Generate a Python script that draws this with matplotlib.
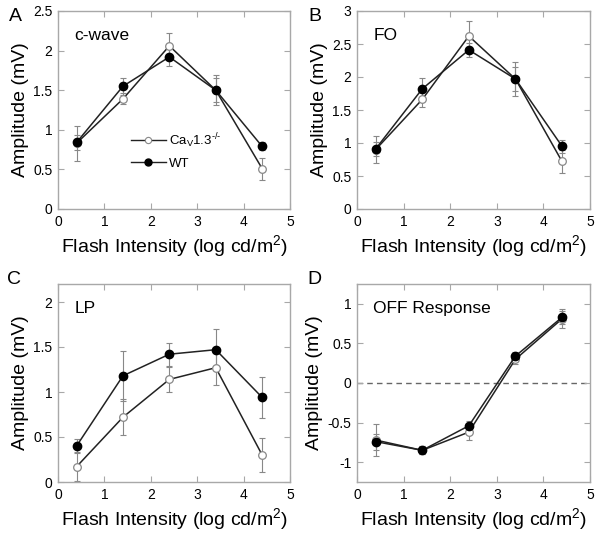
import matplotlib
matplotlib.use("Agg")
import matplotlib.pyplot as plt
from matplotlib.lines import Line2D

plt.rcParams['font.family'] = ['Liberation Sans', 'DejaVu Sans']
plt.rcParams['mathtext.fontset'] = 'custom'
plt.rcParams['mathtext.rm'] = 'Liberation Sans'
plt.rcParams['mathtext.it'] = 'Liberation Sans:italic'

x = [0.4, 1.4, 2.4, 3.4, 4.4]

# Panel A: c-wave
a_ko = [0.83, 1.39, 2.06, 1.50, 0.51]
a_ko_err = [0.22, 0.07, 0.16, 0.19, 0.14]
a_wt = [0.84, 1.55, 1.92, 1.50, 0.79]
a_wt_err = [0.10, 0.11, 0.12, 0.15, 0.05]

# Panel B: FO
b_ko = [0.90, 1.66, 2.62, 1.97, 0.72]
b_ko_err = [0.21, 0.12, 0.23, 0.26, 0.18]
b_wt = [0.91, 1.82, 2.41, 1.97, 0.95]
b_wt_err = [0.11, 0.16, 0.11, 0.18, 0.10]

# Panel C: LP
c_ko = [0.17, 0.72, 1.14, 1.27, 0.30]
c_ko_err = [0.16, 0.20, 0.14, 0.19, 0.19]
c_wt = [0.40, 1.18, 1.42, 1.47, 0.94]
c_wt_err = [0.08, 0.28, 0.13, 0.23, 0.23]

# Panel D: OFF Response
d_ko = [-0.72, -0.85, -0.62, 0.30, 0.81]
d_ko_err = [0.20, 0.05, 0.10, 0.06, 0.12]
d_wt = [-0.74, -0.85, -0.54, 0.34, 0.83]
d_wt_err = [0.10, 0.05, 0.06, 0.05, 0.08]

W, H = 600, 536

panels = [
    dict(letter='A', lpos=(9, 8), title='c-wave', ko=a_ko, koe=a_ko_err, wt=a_wt, wte=a_wt_err,
         ylim=(0, 2.5), yticks=[0, 0.5, 1, 1.5, 2, 2.5], yticklabels=['0', '0.5', '1', '1.5', '2', '2.5'],
         rect=[58/W, 1-209/H, 232/W, 198/H]),
    dict(letter='B', lpos=(308, 8), title='FO', ko=b_ko, koe=b_ko_err, wt=b_wt, wte=b_wt_err,
         ylim=(0, 3), yticks=[0, 0.5, 1, 1.5, 2, 2.5, 3], yticklabels=['0', '0.5', '1', '1.5', '2', '2.5', '3'],
         rect=[357/W, 1-209/H, 233/W, 198/H]),
    dict(letter='C', lpos=(7, 271), title='LP', ko=c_ko, koe=c_ko_err, wt=c_wt, wte=c_wt_err,
         ylim=(0, 2.2), yticks=[0, 0.5, 1, 1.5, 2], yticklabels=['0', '0.5', '1', '1.5', '2'],
         rect=[58/W, 1-482/H, 232/W, 198/H]),
    dict(letter='D', lpos=(307, 271), title='OFF Response', ko=d_ko, koe=d_ko_err, wt=d_wt, wte=d_wt_err,
         ylim=(-1.25, 1.25), yticks=[-1, -0.5, 0, 0.5, 1], yticklabels=['-1', '-0.5', '0', '0.5', '1'],
         rect=[357/W, 1-482/H, 233/W, 198/H]),
]

fig = plt.figure(figsize=(6, 5.36), dpi=100)
spine_c = '#a8a8a8'
line_c = '#222222'
err_c = '#888888'

for p in panels:
    ax = fig.add_axes(p['rect'])
    if p['letter'] == 'D':
        ax.axhline(0, color='#666666', lw=1.0, ls=(0, (4, 3)), zorder=1)
    ax.errorbar(x, p['ko'], yerr=p['koe'], fmt='none', ecolor=err_c, elinewidth=0.8,
                capsize=2, capthick=0.8, zorder=2)
    ax.errorbar(x, p['wt'], yerr=p['wte'], fmt='none', ecolor=err_c, elinewidth=0.8,
                capsize=2, capthick=0.8, zorder=2)
    ax.plot(x, p['ko'], color=line_c, lw=1.1, marker='o', ms=5.5, mfc='white',
            mec='#888888', mew=0.9, zorder=3)
    ax.plot(x, p['wt'], color=line_c, lw=1.1, marker='o', ms=6, mfc='black',
            mec='black', zorder=4)
    ax.set_xlim(0, 5)
    ax.set_ylim(*p['ylim'])
    ax.set_xticks([0, 1, 2, 3, 4, 5])
    ax.set_yticks(p['yticks'])
    ax.set_yticklabels(p['yticklabels'])
    for s in ax.spines.values():
        s.set_color(spine_c)
        s.set_linewidth(1.0)
    ax.tick_params(direction='in', length=4, width=0.8, color=spine_c,
                   top=True, right=True, labelsize=10, pad=4)
    ax.set_xlabel('Flash Intensity (log cd/m$^2$)', fontsize=14, labelpad=3)
    ax.set_ylabel('Amplitude (mV)', fontsize=14, labelpad=3)
    ax.text(0.07, 0.915, p['title'], transform=ax.transAxes, fontsize=12.5,
            ha='left', va='top')
    fig.text(p['lpos'][0]/W, 1 - p['lpos'][1]/H, p['letter'],
             fontsize=14, ha='left', va='top')
    if p['letter'] == 'A':
        h1 = Line2D([], [], color=line_c, lw=1.0, marker='o', ms=4.5, mfc='white',
                    mec='#888888', mew=0.8)
        h2 = Line2D([], [], color=line_c, lw=1.0, marker='o', ms=5, mfc='black', mec='black')
        ax.legend([h1, h2], ['Ca$_\\mathregular{V}$1.3$^{\u2010/\u2010}$', 'WT'], loc='upper left',
                  bbox_to_anchor=(0.29, 0.42), frameon=False, fontsize=9.5,
                  handlelength=2.7, handletextpad=0.2, labelspacing=0.6, borderaxespad=0)

fig.savefig('out.png', dpi=100)
